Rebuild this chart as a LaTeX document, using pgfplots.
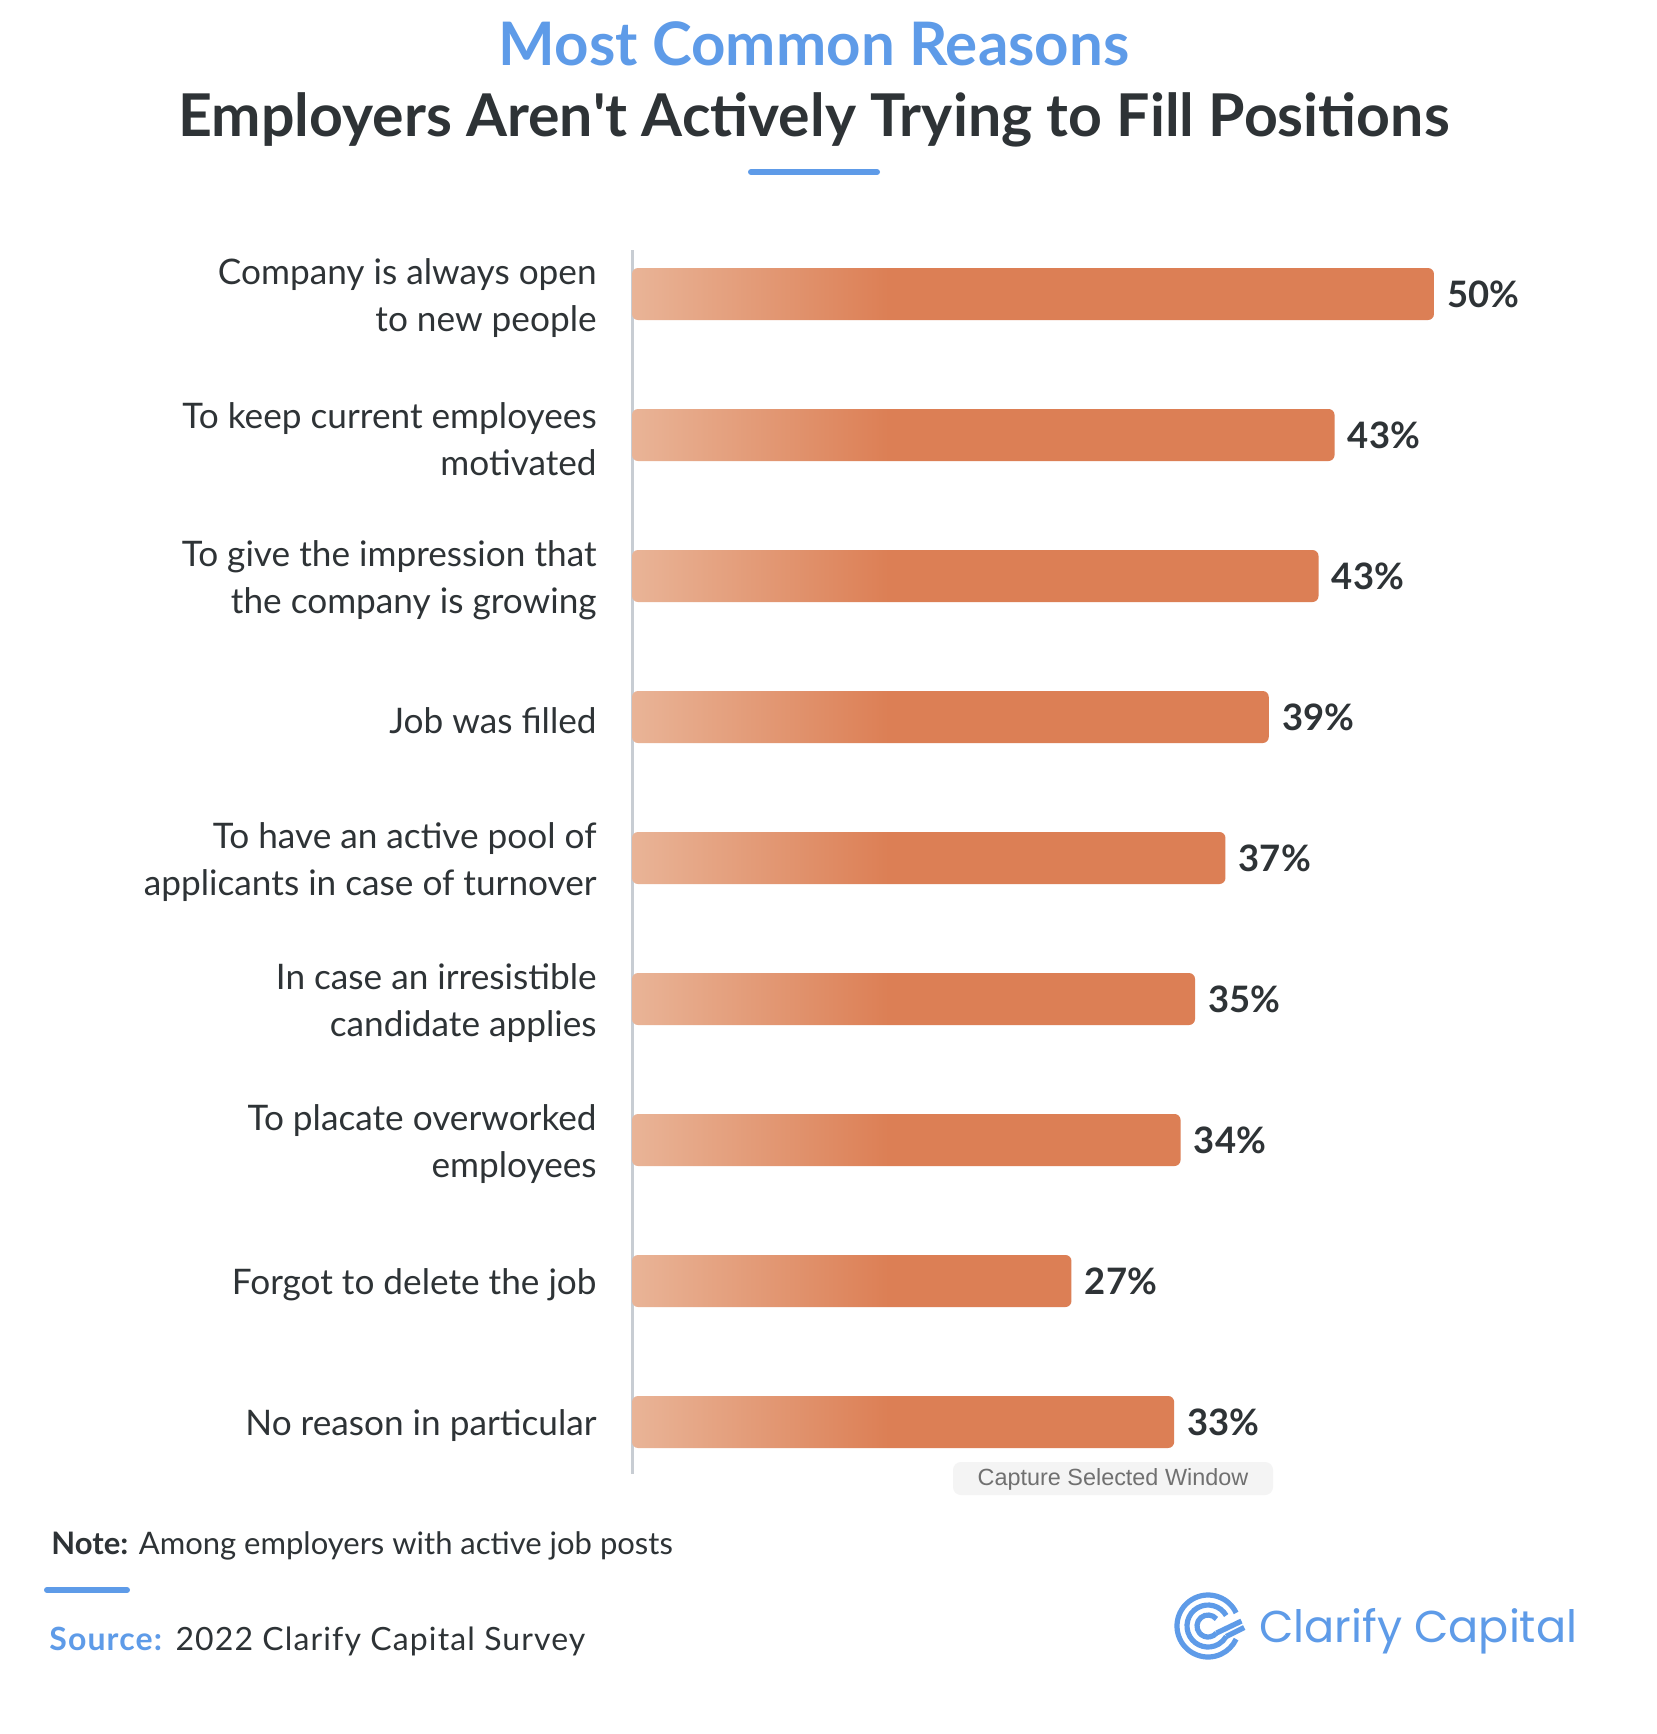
\documentclass[border=0pt]{standalone}
\usepackage{pgfplots}
\pgfplotsset{compat=1.18}
\usepackage{pgfplotstable}
\usepackage{fontspec}
\setmainfont{Lato}
\newfontfamily\logofont{Poppins}
\newfontfamily\capfont{Liberation Sans}
\newfontfamily\srcfont[LetterSpace=3.5]{Lato}
\definecolor{titleblue}{HTML}{5E9BE8}
\definecolor{textdark}{HTML}{2E3336}
\definecolor{barorange}{HTML}{DC7F55}
\definecolor{barlight}{HTML}{E9B497}
\definecolor{axisgray}{HTML}{C8CDD3}
\definecolor{capbg}{HTML}{F4F4F4}
\definecolor{captext}{HTML}{707070}
\pgfdeclarehorizontalshading{barshade}{100bp}{color(0bp)=(barlight); color(25bp)=(barlight); color(41bp)=(barorange); color(100bp)=(barorange)}
\pgfplotstableread{
i v lab
0 50.0 50
1 43.8 43
2 42.8 43
3 39.7 39
4 37.0 37
5 35.1 35
6 34.2 34
7 27.4 27
8 33.8 33
}\data
\begin{document}
\begin{tikzpicture}
\begin{scope}[x=0.5pt,y=-0.5pt]
\fill[white] (0,0) rectangle (1656,1734);
\end{scope}
\begin{axis}[
  at={(316pt,-125pt)}, anchor=north west,
  scale only axis, width=401pt, height=612pt,
  xmin=0, xmax=50, ymin=-0.312, ymax=8.369, y dir=reverse,
  axis x line=none, axis y line=left,
  axis line style={-},
  y axis line style={draw=axisgray, line width=1.5pt},
  ytick={0,...,8}, major tick length=0pt, ytick style={draw=none},
  yticklabels={{Company is always open\\to new people},{To keep current employees\\motivated},{To give the impression that\\the company is growing},{Job was filled},{To have an active pool of\\applicants in case of turnover},{In case an irresistible\\candidate applies},{To placate overworked\\employees},{Forgot to delete the job},{No reason in particular}},
  yticklabel style={align=right, inner sep=0pt, xshift=-17.5pt, yshift=-2pt, font=\fontsize{17.6}{23.5}\selectfont, text=textdark},
  clip=false,
]
\addplot[xbar, bar width=26pt, draw=none, shade, shading=barshade, rounded corners=3pt,
  point meta=explicit symbolic,
  nodes near coords={\pgfplotspointmeta\%},
  nodes near coords align=horizontal,
  every node near coord/.append style={anchor=west, inner sep=0pt, xshift=6.5pt, font=\fontsize{18.2}{20}\selectfont\bfseries, text=textdark}]
  table[x=v, y=i, meta=lab] {\data};
\end{axis}
\begin{scope}[x=0.5pt,y=-0.5pt]
\node[anchor=base, font=\fontsize{30}{36}\selectfont\bfseries, text=titleblue] at (814,66) {Most Common Reasons};
\node[anchor=base, font=\fontsize{29.5}{36}\selectfont\bfseries, text=textdark] at (814,136) {Employers Aren\textquotesingle t Actively Trying to Fill Positions};
\draw[titleblue, line width=3pt, line cap=round] (751,172) -- (877,172);
\fill[capbg, rounded corners=4pt] (953,1462) rectangle (1273,1495);
\node[font=\capfont\fontsize{11.7}{13}\selectfont, text=captext] at (1113,1479) {Capture Selected Window};
\node[anchor=base west, font=\fontsize{15.5}{19}\selectfont, text=textdark, inner sep=0pt] at (51,1554) {\textbf{Note:} Among employers with active job posts};
\draw[titleblue, line width=3pt, line cap=round] (47,1590) -- (127,1590);
\node[anchor=base west, font=\srcfont\fontsize{16}{19}\selectfont, text=textdark, inner sep=0pt] at (49,1650) {\textcolor{titleblue}{\textbf{Source:}} 2022 Clarify Capital Survey};
\node[anchor=base west, font=\logofont\fontsize{22.3}{26}\selectfont, text=titleblue, inner sep=0pt] at (1259,1642) {Clarify Capital};
\begin{scope}[titleblue, line width=2.6pt]
\draw (1208,1626) ++(-25:31) arc[start angle=-25, end angle=-335, radius=31];
\draw (1208,1626) ++(-30:21) arc[start angle=-30, end angle=-330, radius=21];
\draw (1208,1626) ++(-40:11) arc[start angle=-40, end angle=-320, radius=11];
\draw (1208,1626) ++(-320:11) -- ++(25,-12);
\draw (1208,1626) ++(-330:21) -- ++(18,-9);
\end{scope}
\end{scope}
\end{tikzpicture}
\end{document}
